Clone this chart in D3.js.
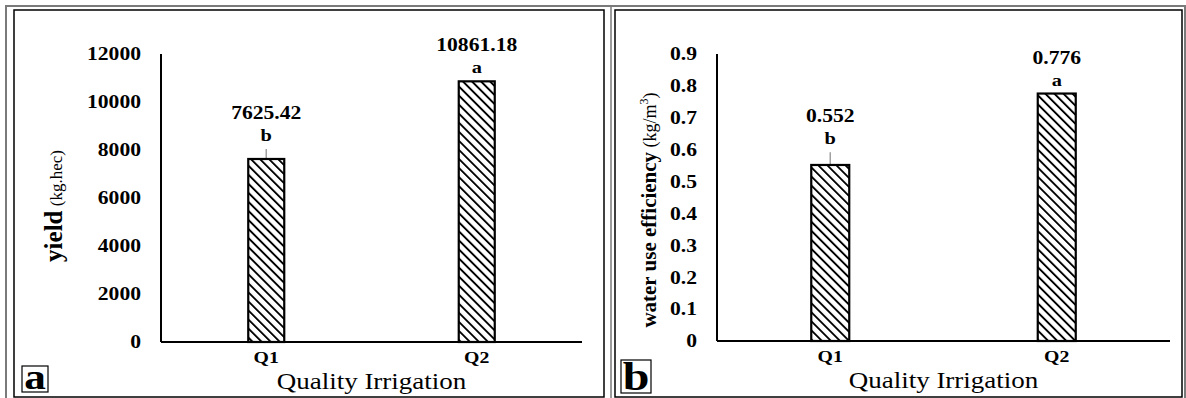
<!DOCTYPE html>
<html>
<head>
<meta charset="utf-8">
<script src="https://cdn.jsdelivr.net/npm/d3@7"></script>
<style>
body{margin:0;background:#fff;}
svg{display:block;font-family:"Liberation Serif","Times New Roman",serif;}
</style>
</head>
<body>
<svg></svg>
<script>
var width=1186;
var height=398;
var sx=1.2; // text in the source is stretched sideways

var categories=["Q1","Q2"];

var yieldValues=[7625.42,10861.18];
var yieldLetters=["b","a"];
var yieldErr=[420,0];
var yieldTicks=[0,2000,4000,6000,8000,10000,12000];

var wueValues=[0.552,0.776];
var wueLetters=["b","a"];
var wueErr=[0.04,0];
var wueTicks=[0,0.1,0.2,0.3,0.4,0.5,0.6,0.7,0.8,0.9];

var svg=d3.select("svg")
	.attr("width",width)
	.attr("height",height);

// hatch
svg.append("defs")
	.append("pattern")
	.attr("id","hatch")
	.attr("patternUnits","userSpaceOnUse")
	.attr("width",6.4)
	.attr("height",6.4)
	.attr("patternTransform","rotate(-45)")
	.append("line")
	.attr("x1",0).attr("y1",-1)
	.attr("x2",0).attr("y2",8)
	.attr("stroke","#000")
	.attr("stroke-width",3.8);

// frames
svg.append("rect")
	.attr("x",6).attr("y",6)
	.attr("width",1179).attr("height",400)
	.attr("fill","none")
	.attr("stroke","#7a7a7a")
	.attr("stroke-width",2);
svg.append("line")
	.attr("x1",611).attr("x2",611)
	.attr("y1",6).attr("y2",398)
	.attr("stroke","#7a7a7a")
	.attr("stroke-width",1.5);

function stretched(sel,x,y)
{
	return sel.attr("transform","translate("+x+","+y+") scale("+sx+",1)");
}

function drawPanel(p)
{
	var g=svg.append("g");

	g.append("rect")
		.attr("x",p.box[0]).attr("y",p.box[1])
		.attr("width",p.box[2]-p.box[0]).attr("height",p.box[3]-p.box[1])
		.attr("fill","none")
		.attr("stroke","#000")
		.attr("stroke-width",1.5);

	var scalex=d3.scaleBand()
		.domain(categories)
		.range([p.left,p.right])
		.paddingInner(0)
		.paddingOuter(0);

	var scaley=d3.scaleLinear()
		.domain([0,p.max])
		.range([p.bottom,p.top]);

	var bw=p.barWidth;

	// tick labels
	g.selectAll(".tick")
		.data(p.ticks)
		.enter()
		.append("text")
		.each(function(d){ stretched(d3.select(this),p.left-20,scaley(d)); })
		.attr("dy","0.35em")
		.attr("text-anchor","end")
		.attr("font-size",18)
		.attr("font-weight","bold")
		.text(d => d3.format("")(d));

	// axes
	g.append("line")
		.attr("x1",p.left).attr("x2",p.left)
		.attr("y1",scaley(p.max)).attr("y2",scaley(0))
		.attr("stroke","#000").attr("stroke-width",2);

	// error bar (upper)
	g.selectAll(".err")
		.data(p.values)
		.enter()
		.filter((d,i) => p.err[i]>0)
		.append("line")
		.attr("x1",(d,i) => scalex(categories[i])+scalex.bandwidth()/2)
		.attr("x2",(d,i) => scalex(categories[i])+scalex.bandwidth()/2)
		.attr("y1",d => scaley(d))
		.attr("y2",(d,i) => scaley(d+p.err[i]))
		.attr("stroke","#a0a0a0")
		.attr("stroke-width",1.5);

	// bars
	g.selectAll(".bar")
		.data(p.values)
		.enter()
		.append("rect")
		.attr("x",(d,i) => scalex(categories[i])+scalex.bandwidth()/2-bw/2)
		.attr("y",d => scaley(d))
		.attr("width",bw)
		.attr("height",d => scaley(0)-scaley(d))
		.attr("fill","url(#hatch)")
		.attr("stroke","#000")
		.attr("stroke-width",2.2);

	g.append("line")
		.attr("x1",p.left).attr("x2",p.right)
		.attr("y1",scaley(0)).attr("y2",scaley(0))
		.attr("stroke","#000").attr("stroke-width",2);

	// letters + values
	p.values.forEach(function(d,i){
		var cx=scalex(categories[i])+scalex.bandwidth()/2;
		var ly=scaley(d+p.err[i])-8;
		stretched(g.append("text"),cx,ly)
			.attr("text-anchor","middle")
			.attr("font-size",17)
			.attr("font-weight","bold")
			.text(p.letters[i]);
		stretched(g.append("text"),cx,ly-22)
			.attr("text-anchor","middle")
			.attr("font-size",18)
			.attr("font-weight","bold")
			.text(p.labels[i]);
	});

	// category labels
	g.selectAll(".cat")
		.data(categories)
		.enter()
		.append("text")
		.each(function(d){ stretched(d3.select(this),scalex(d)+scalex.bandwidth()/2,scaley(0)+21); })
		.attr("text-anchor","middle")
		.attr("font-size",16.5)
		.attr("font-weight","bold")
		.text(d => d);

	// x title
	stretched(g.append("text"),(p.left+p.right)/2,scaley(0)+47)
		.attr("text-anchor","middle")
		.attr("font-size",22.5)
		.text("Quality Irrigation");

	// y title
	var yt=g.append("text")
		.attr("transform","translate("+p.titleX+","+p.titleY+") rotate(-90)")
		.attr("text-anchor","middle");
	yt.append("tspan")
		.attr("font-size",p.titleSize)
		.attr("font-weight","bold")
		.text(p.title);
	yt.append("tspan")
		.attr("font-size",p.unitSize)
		.text(" "+p.unit);
	if(p.sup)
	{
		yt.append("tspan").attr("font-size",12).attr("dy","-0.7em").text(p.sup);
		yt.append("tspan").attr("font-size",p.unitSize).attr("dy","0.45em").text(")");
	}

	// panel letter
	g.append("rect")
		.attr("x",p.tag[0]).attr("y",p.tag[1])
		.attr("width",p.tag[2]).attr("height",p.tag[3])
		.attr("fill","none")
		.attr("stroke","#000")
		.attr("stroke-width",1.2);
	stretched(g.append("text"),p.tag[0]+p.tag[2]/2,p.tag[1]+p.tag[3]-3)
		.attr("text-anchor","middle")
		.attr("font-size",p.tag[4])
		.attr("font-weight","bold")
		.text(p.tagText);
}

drawPanel({
	box:[14,10,604,397],
	left:161,right:582,top:54,bottom:342,max:12000,
	barWidth:36,
	values:yieldValues,err:yieldErr,letters:yieldLetters,
	labels:yieldValues.map(d => d.toFixed(2)),
	ticks:yieldTicks,
	title:"yield",unit:"(kg.hec)",sup:null,titleSize:25,unitSize:17,
	titleX:62,titleY:206,
	tag:[22,366,26,26,36],tagText:"a"
});

drawPanel({
	box:[615,10,1182,397],
	left:717,right:1170,top:54,bottom:341,max:0.9,
	barWidth:38,
	values:wueValues,err:wueErr,letters:wueLetters,
	labels:wueValues.map(d => d.toFixed(3)),
	ticks:wueTicks,
	title:"water use efficiency",unit:"(kg/m",sup:"3",titleSize:21,unitSize:18,
	titleX:656,titleY:210,
	tag:[621,360,30,33,40],tagText:"b"
});
</script>
</body>
</html>
